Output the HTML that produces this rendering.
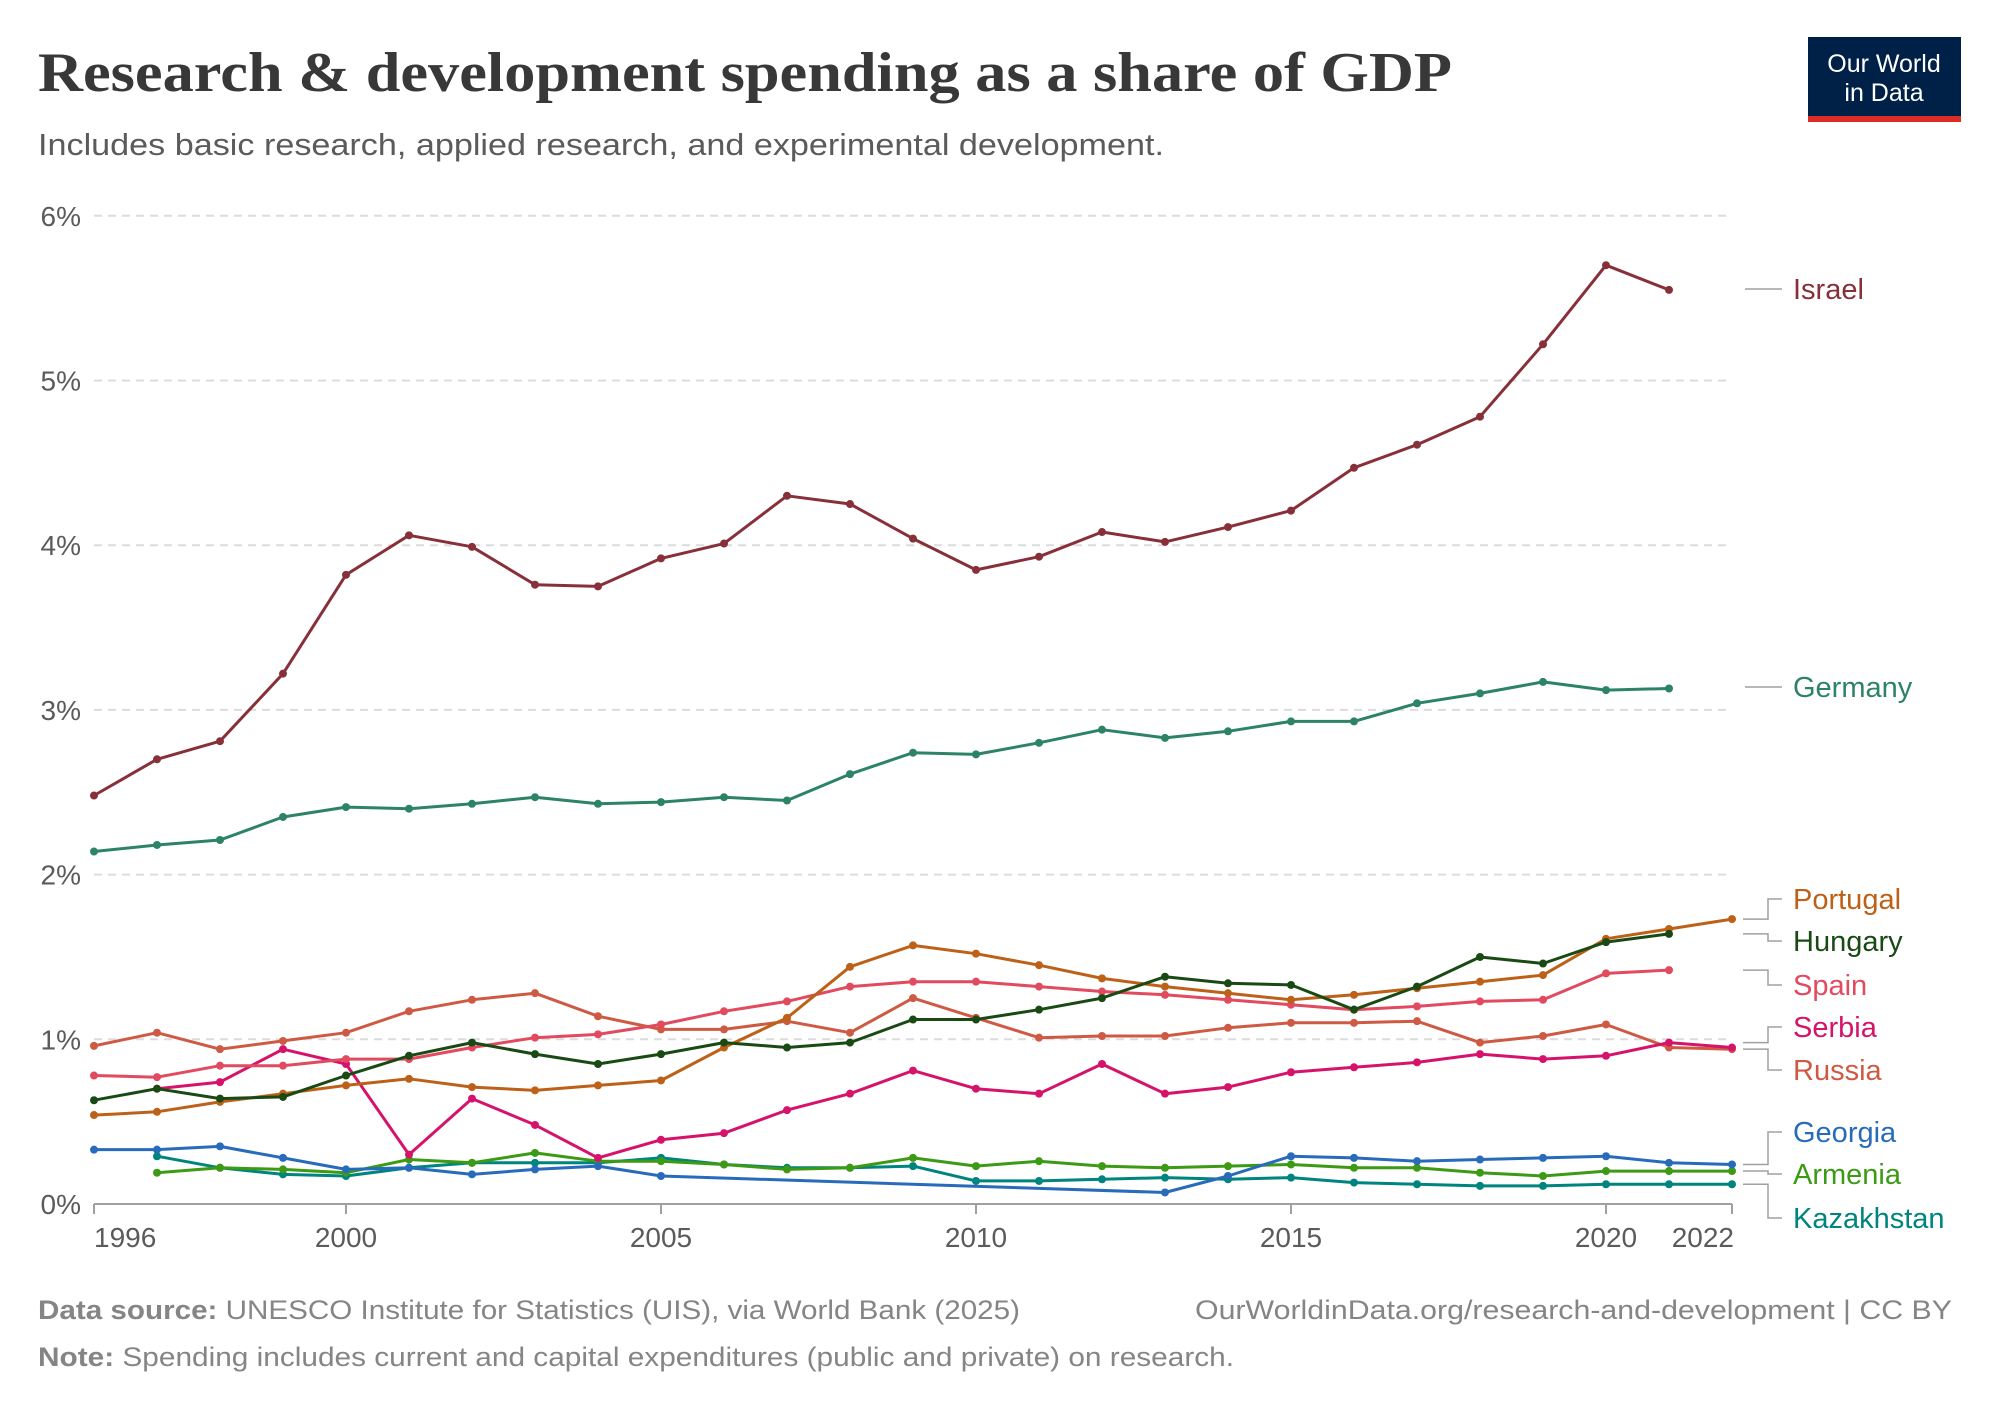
<!DOCTYPE html>
<html><head><meta charset="utf-8"><style>
html,body{margin:0;padding:0;background:#fff;}
svg{display:block;font-family:"Liberation Sans",sans-serif;}
</style></head><body>
<svg id="s" width="1999" height="1412" viewBox="0 0 1999 1412" xmlns="http://www.w3.org/2000/svg">
<rect width="1999" height="1412" fill="#fff"/>
<text x="38" y="91" font-family="Liberation Serif" font-weight="bold" font-size="56" fill="#383838" textLength="1414" lengthAdjust="spacingAndGlyphs">Research &amp; development spending as a share of GDP</text>
<text x="38" y="155" font-size="31" fill="#5b5b5b" textLength="1126" lengthAdjust="spacingAndGlyphs">Includes basic research, applied research, and experimental development.</text>
<rect x="1808" y="37" width="153" height="85" fill="#002147"/>
<rect x="1808" y="116" width="153" height="6" fill="#dc2c24"/>
<text x="1884" y="72" font-size="25" fill="#fff" text-anchor="middle">Our World</text>
<text x="1884" y="101" font-size="25" fill="#fff" text-anchor="middle">in Data</text>
<g id="grid"></g>
<g id="series"></g>
<g font-size="28" fill="#5b5b5b">
<text x="1046" y="1319" font-size="27" textLength="0" style="display:none"></text>
</g>
<text x="38" y="1319" font-size="27" fill="#858585" textLength="982" lengthAdjust="spacingAndGlyphs"><tspan font-weight="bold">Data source:</tspan> UNESCO Institute for Statistics (UIS), via World Bank (2025)</text>
<text x="1952" y="1319" font-size="27" fill="#858585" text-anchor="end" textLength="757" lengthAdjust="spacingAndGlyphs">OurWorldinData.org/research-and-development | CC BY</text>
<text x="38" y="1366" font-size="27" fill="#858585" textLength="1196" lengthAdjust="spacingAndGlyphs"><tspan font-weight="bold">Note:</tspan> Spending includes current and capital expenditures (public and private) on research.</text>
</svg>
<script>
var NS="http://www.w3.org/2000/svg";
function X(y){return 94+(y-1996)*63.0;}
function Y(v){return 1204-v*164.7;}
function el(t,a,p,txt){var e=document.createElementNS(NS,t);for(var k in a)e.setAttribute(k,a[k]);if(txt!=null)e.textContent=txt;p.appendChild(e);return e;}
var g=document.getElementById('grid');
for(var i=0;i<=6;i++){
 var y=Y(i);
 if(i>0) el('line',{x1:94,x2:1732,y1:y,y2:y,stroke:'#dcdcdc','stroke-width':2,'stroke-dasharray':'8,6'},g);
 el('text',{x:81,y:y+10,'font-size':28,fill:'#5b5b5b','text-anchor':'end'},g,i+'%');
}
el('line',{x1:94,x2:1732,y1:1204,y2:1204,stroke:'#a0a0a0','stroke-width':2},g);
[1996,2000,2005,2010,2015,2020,2022].forEach(function(yr){
 el('line',{x1:X(yr),x2:X(yr),y1:1204,y2:1214,stroke:'#a0a0a0','stroke-width':2},g);
 var anchor=yr==1996?'start':(yr==2022?'end':'middle');
 var xx=yr==1996?X(yr):(yr==2022?X(yr)+2:X(yr));
 el('text',{x:xx,y:1247,'font-size':28,fill:'#5b5b5b','text-anchor':anchor},g,''+yr);
});
var S=[
 ['Kazakhstan','#00847e',1997,[0.29,0.22,0.18,0.17,0.22,0.25,0.25,0.25,0.28,0.24,0.22,0.22,0.23,0.14,0.14,0.15,0.16,0.15,0.16,0.13,0.12,0.11,0.11,0.12,0.12,0.12]],
 ['Armenia','#3c9a14',1997,[0.19,0.22,0.21,0.19,0.27,0.25,0.31,0.26,0.26,0.24,0.21,0.22,0.28,0.23,0.26,0.23,0.22,0.23,0.24,0.22,0.22,0.19,0.17,0.20,0.20,0.20]],
 ['Georgia','#286bbb',1996,[0.33,0.33,0.35,0.28,0.21,0.22,0.18,0.21,0.23,0.17,null,null,null,null,null,null,null,0.07,0.17,0.29,0.28,0.26,0.27,0.28,0.29,0.25,0.24]],
 ['Russia','#cf5a44',1996,[0.96,1.04,0.94,0.99,1.04,1.17,1.24,1.28,1.14,1.06,1.06,1.11,1.04,1.25,1.13,1.01,1.02,1.02,1.07,1.10,1.10,1.11,0.98,1.02,1.09,0.95,0.94]],
 ['Serbia','#d6136b',1997,[0.70,0.74,0.94,0.85,0.30,0.64,0.48,0.28,0.39,0.43,0.57,0.67,0.81,0.70,0.67,0.85,0.67,0.71,0.80,0.83,0.86,0.91,0.88,0.90,0.98,0.95]],
 ['Spain','#e14a5f',1996,[0.78,0.77,0.84,0.84,0.88,0.88,0.95,1.01,1.03,1.09,1.17,1.23,1.32,1.35,1.35,1.32,1.29,1.27,1.24,1.21,1.18,1.20,1.23,1.24,1.40,1.42]],
 ['Portugal','#bd6018',1996,[0.54,0.56,0.62,0.67,0.72,0.76,0.71,0.69,0.72,0.75,0.95,1.13,1.44,1.57,1.52,1.45,1.37,1.32,1.28,1.24,1.27,1.31,1.35,1.39,1.61,1.67,1.73]],
 ['Hungary','#1a4a14',1996,[0.63,0.70,0.64,0.65,0.78,0.90,0.98,0.91,0.85,0.91,0.98,0.95,0.98,1.12,1.12,1.18,1.25,1.38,1.34,1.33,1.18,1.32,1.50,1.46,1.59,1.64]],
 ['Germany','#2c8465',1996,[2.14,2.18,2.21,2.35,2.41,2.40,2.43,2.47,2.43,2.44,2.47,2.45,2.61,2.74,2.73,2.80,2.88,2.83,2.87,2.93,2.93,3.04,3.10,3.17,3.12,3.13]],
 ['Israel','#883039',1996,[2.48,2.70,2.81,3.22,3.82,4.06,3.99,3.76,3.75,3.92,4.01,4.30,4.25,4.04,3.85,3.93,4.08,4.02,4.11,4.21,4.47,4.61,4.78,5.22,5.70,5.55]]
];
var sg=document.getElementById('series');
S.forEach(function(s){
 var pts=[];s[3].forEach(function(v,i){if(v!=null)pts.push([X(s[2]+i),Y(v)]);});
 el('polyline',{points:pts.map(function(p){return p[0].toFixed(1)+','+p[1].toFixed(1)}).join(' '),fill:'none',stroke:s[1],'stroke-width':3,'stroke-linejoin':'round'},sg);
 pts.forEach(function(p){el('circle',{cx:p[0],cy:p[1],r:4,fill:s[1]},sg);});
});
var L=[['Israel','#883039',289,Y(5.55),false],['Germany','#2c8465',687,Y(3.13),false],
['Portugal','#bd6018',899,Y(1.73),true],['Hungary','#1a4a14',941,Y(1.64),true],['Spain','#e14a5f',985,Y(1.42),true],
['Serbia','#d6136b',1027,Y(0.98),true],['Russia','#cf5a44',1070,Y(0.94),true],
['Georgia','#286bbb',1132,Y(0.24),true],['Armenia','#3c9a14',1174,Y(0.20),true],['Kazakhstan','#00847e',1218,Y(0.12),true]];
L.forEach(function(l){
 if(l[4]) el('polyline',{points:'1743,'+l[3]+' 1768,'+l[3]+' 1768,'+l[2]+' 1782,'+l[2],fill:'none',stroke:'#a0a0a0','stroke-width':1.5},sg);
 else el('line',{x1:1745,x2:1782,y1:l[2],y2:l[2],stroke:'#a0a0a0','stroke-width':1.5},sg);
 el('text',{x:1793,y:l[2]+10,'font-size':29,fill:l[1]},sg,l[0]);
});
</script>
</body></html>
